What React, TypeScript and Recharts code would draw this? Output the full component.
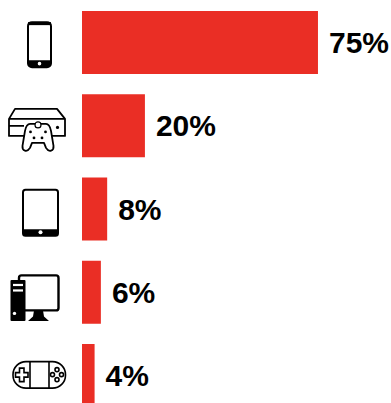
import { Bar, BarChart, LabelList, XAxis, YAxis } from 'recharts'

const devices = ['phone', 'console', 'tablet', 'desktop', 'handheld']
const shares = [75, 20, 8, 6, 4]

const rows = devices.map((device, i) => ({ device, share: shares[i] }))

// Icons are drawn around the vertical centre of their row
function PhoneIcon() {
  return (
    <g>
      <rect x={28} y={-20.5} width={23} height={45} rx={4} fill="#fff" stroke="#000" strokeWidth={2} />
      <rect x={28} y={-20.5} width={23} height={3} fill="#000" />
      <path d="M28 17.5h23v3a4 4 0 0 1-4 4H32a4 4 0 0 1-4-4z" fill="#000" />
      <circle cx={39.5} cy={21} r={1.8} fill="#fff" />
    </g>
  )
}

function ConsoleIcon() {
  return (
    <g fill="none" stroke="#000" strokeWidth={1.8} strokeLinejoin="round">
      <path d="M15 -17H57L65 -7V10H9V-7Z" />
      <path d="M9 -7H65M9 0H24" />
      <circle cx={57.5} cy={1.5} r={1.6} fill="#000" stroke="none" />
      <path
        d="M30 -2H46C49 -2 50 0 51 5L53.5 20C54 25 49 27 46 22L44 17H32L30 22C27 27 22 25 22.5 20L25 5C26 0 27 -2 30 -2Z"
        fill="#fff"
      />
      <circle cx={38} cy={-1} r={3} fill="#fff" strokeWidth={1.2} />
      <circle cx={30.5} cy={6} r={1.4} fill="#000" stroke="none" />
      <circle cx={34} cy={12} r={1.4} fill="#000" stroke="none" />
      <circle cx={42} cy={12} r={1.4} fill="#000" stroke="none" />
      <circle cx={45.5} cy={6} r={1.4} fill="#000" stroke="none" />
    </g>
  )
}

function TabletIcon() {
  return (
    <g>
      <rect x={23} y={-19.5} width={35} height={46} rx={2.5} fill="#fff" stroke="#000" strokeWidth={2} />
      <path d="M23 20h35v4.5a2 2 0 0 1-2 2H25a2 2 0 0 1-2-2z" fill="#000" />
      <circle cx={40.5} cy={23} r={2} fill="#fff" />
    </g>
  )
}

function DesktopIcon() {
  return (
    <g>
      <rect x={19} y={-17} width={39.5} height={35} rx={2.5} fill="#fff" stroke="#000" strokeWidth={2.4} />
      <path d="M34 18H43L44 24L49 28.5H28L33 24Z" fill="#000" />
      <rect x={10.5} y={-12.5} width={15} height={41} rx={1} fill="#000" />
      <rect x={13} y={-8.5} width={10} height={2.2} fill="#fff" />
      <rect x={13} y={-3} width={10} height={2.2} fill="#fff" />
      <circle cx={14.5} cy={21} r={1.7} fill="#fff" />
    </g>
  )
}

function HandheldIcon() {
  return (
    <g fill="none" stroke="#000" strokeWidth={1.6}>
      <rect x={13} y={-14} width={52.5} height={26.5} rx={13} />
      <path d="M30 -14V12.5M49 -14V12.5" />
      <path d="M19.5 -7.5H24V-3H28V1.5H24V6H19.5V1.5H15.5V-3H19.5Z" />
      <circle cx={57} cy={-6} r={2} />
      <circle cx={57} cy={4} r={2} />
      <circle cx={52.5} cy={-1} r={2} />
      <circle cx={61.5} cy={-1} r={2} />
    </g>
  )
}

const icons: Record<string, () => React.JSX.Element> = {
  phone: PhoneIcon,
  console: ConsoleIcon,
  tablet: TabletIcon,
  desktop: DesktopIcon,
  handheld: HandheldIcon,
}

function DeviceTick({ y, payload }: { y?: number; payload?: { value: string } }) {
  const Icon = icons[payload?.value ?? 'phone']
  return (
    <g transform={`translate(0, ${y})`}>
      <Icon />
    </g>
  )
}

export default function App() {
  return (
    <div style={{ position: 'fixed', inset: 0, width: 391, height: 403, overflow: 'hidden', background: '#fff' }}>
      <BarChart
        width={391}
        height={418}
        data={rows}
        layout="vertical"
        margin={{ top: 1, right: 57.3, bottom: 0.75, left: 0 }}
        barSize={63}
      >
        <XAxis type="number" hide domain={[0, 80]} />
        <YAxis
          type="category"
          dataKey="device"
          width={82}
          axisLine={false}
          tickLine={false}
          interval={0}
          tick={<DeviceTick />}
        />
        <Bar dataKey="share" fill="#ea2e25" isAnimationActive={false}>
          <LabelList
            dataKey="share"
            position="right"
            offset={11}
            formatter={(v: number) => `${v}%`}
            style={{ fontFamily: '"Liberation Sans", Arial, sans-serif', fontSize: 30, fontWeight: 700, fill: '#000' }}
          />
        </Bar>
      </BarChart>
    </div>
  )
}
